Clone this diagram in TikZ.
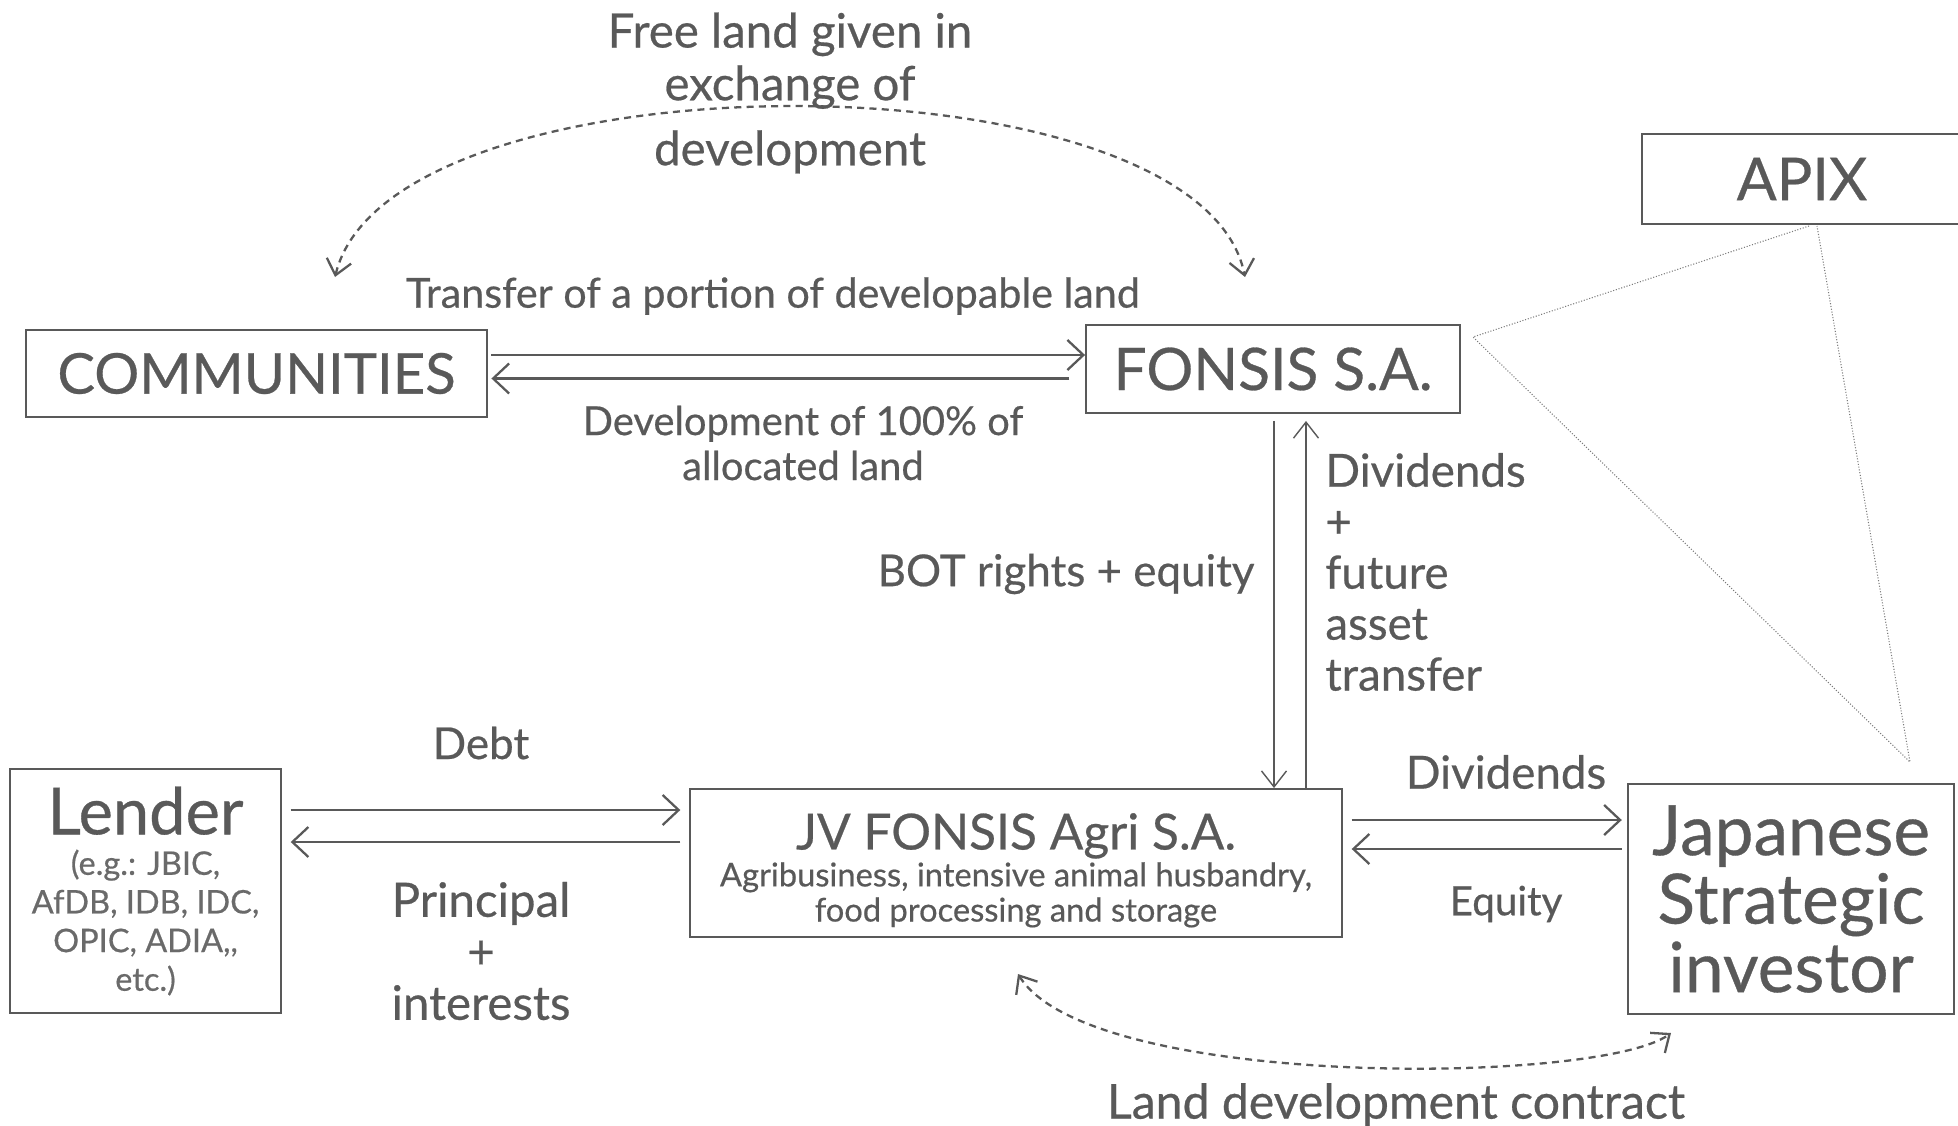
\documentclass[tikz,border=0pt]{standalone}
\usepackage{fontspec}
\setmainfont{Lato}[FakeBold=0.5]
\definecolor{inkgray}{HTML}{595959}
\definecolor{softgray}{HTML}{6A6A6A}
\definecolor{dotgray}{HTML}{7A7A7A}
\usetikzlibrary{arrows.meta, positioning}

\begin{document}
\begin{tikzpicture}[x=0.02cm, y=-0.02cm,
    box/.style={draw=inkgray, line width=1.1pt, text=inkgray, align=center, inner sep=0pt},
    lbl/.style={text=inkgray, align=center, inner sep=0pt},
    flow/.style={draw=inkgray, line width=1.3pt, -{Straight Barb[length=3.2mm, width=6mm]}},
    thinflow/.style={draw=inkgray, line width=0.8pt, -{Straight Barb[length=3.2mm, width=5mm]}},
    swap/.style={draw=inkgray, line width=1.3pt, dash pattern=on 4pt off 3pt, {Straight Barb[length=3mm, width=5mm]}-{Straight Barb[length=3mm, width=5mm]}},
    link/.style={draw=dotgray, line width=0.6pt, densely dotted}]
  \useasboundingbox (0,0) rectangle (1958,1126);

  % boxes
  \node[box, minimum width=9.22cm, minimum height=1.74cm, font=\fontsize{32}{36}\selectfont] (comm) at (256.5,373.5) {COMMUNITIES};
  \node[box, minimum width=7.48cm, minimum height=1.76cm, font=\fontsize{33.4}{36}\selectfont] (fonsis) at (1273,369) {FONSIS S.A.};
  \node[box, minimum width=6.4cm, minimum height=1.8cm, font=\fontsize{33.7}{36}\selectfont] (apix) at (1802,179) {APIX};
  \node[box, minimum width=5.42cm, minimum height=4.88cm, font=\fontsize{18.5}{22}\selectfont, text=softgray] (lender) at (145.5,891)
    {{\fontsize{37}{36}\selectfont\color{inkgray}Lender}\\[1pt]
     (e.g.: JBIC,\\AfDB, IDB, IDC,\\OPIC, ADIA,{},\\etc.)};
  \node[box, minimum width=13.04cm, minimum height=2.96cm, font=\fontsize{18.6}{20}\selectfont] (jv) at (1016,863)
    {{\fontsize{28.3}{30}\selectfont\rule{0pt}{29pt}JV FONSIS Agri S.A.}\\[1pt]
     Agribusiness, intensive animal husbandry,\\food processing and storage};
  \node[box, minimum width=6.52cm, minimum height=4.6cm, font=\fontsize{39.5}{39}\selectfont] (jsi) at (1791,899)
    {Japanese\\Strategic\\investor};

  % labels
  \node[lbl, font=\fontsize{27}{30}\selectfont] (freeland) at (790,93) {Free land given in\\exchange of\\[7pt]development};
  \node[lbl, font=\fontsize{23.5}{22}\selectfont] (transfer) at (773,296) {Transfer of a portion of developable land};
  \node[lbl, font=\fontsize{22.7}{25.6}\selectfont] (devel) at (803,443) {Development of 100\% of\\allocated land};
  \node[lbl, font=\fontsize{25}{26}\selectfont] (bot) at (1066,574) {BOT rights + equity};
  \node[lbl, align=left, anchor=west, font=\fontsize{26}{29}\selectfont] (divup) at (1325,572) {Dividends\\+\\future\\asset\\transfer};
  \node[lbl, font=\fontsize{25}{26}\selectfont] (debt) at (481,743) {Debt};
  \node[lbl, font=\fontsize{27}{29.3}\selectfont] (princ) at (481,951) {Principal\\+\\interests};
  \node[lbl, font=\fontsize{26}{26}\selectfont] (divjv) at (1506,772) {Dividends};
  \node[lbl, font=\fontsize{23}{24}\selectfont] (equity) at (1506,904) {Equity};
  \node[lbl, font=\fontsize{27.4}{26}\selectfont] (contract) at (1396,1105) {Land development contract};

  % free ends of the curved arrows and the APIX triangle
  \coordinate (commtop) at (335,277);
  \coordinate (fonsistop) at (1245,277);
  \coordinate (jvbottom) at (1018,974);
  \coordinate (jsibottom) at (1671,1033);
  \coordinate (apixleft) at (1809,226);
  \coordinate (apixright) at (1817,226);
  \coordinate (fonsisright) at (1473,337);
  \coordinate (jsitop) at (1910,762);

  % flows
  \draw[flow, shorten <=2pt] ([yshift=0.37cm]comm.east) -- ([yshift=0.37cm]comm.east -| fonsis.west);
  \draw[flow, shorten <=9pt, shorten >=2pt] ([yshift=-0.19cm]fonsis.west) -- ([yshift=-0.19cm]fonsis.west -| comm.east);
  \draw[thinflow, shorten <=4pt] ([xshift=0.02cm]fonsis.south) -- ([xshift=0.02cm]fonsis.south |- jv.north);
  \draw[thinflow, shorten >=4pt] ([xshift=0.66cm]fonsis.south |- jv.north) -- ([xshift=0.66cm]fonsis.south);
  \draw[flow, shorten <=5pt, shorten >=5pt] ([yshift=1.62cm]lender.east) -- ([yshift=1.62cm]lender.east -| jv.west);
  \draw[flow, shorten <=5pt, shorten >=5pt] ([yshift=0.42cm]jv.west) -- ([yshift=0.42cm]jv.west -| lender.east);
  \draw[flow, shorten <=5pt, shorten >=3pt] ([yshift=0.86cm]jv.east) -- ([yshift=0.86cm]jv.east -| jsi.west);
  \draw[flow, shorten <=3pt, shorten >=5pt] ([yshift=0.28cm]jsi.west |- jv.east) -- ([yshift=0.28cm]jv.east);

  % dashed exchanges
  \draw[swap] (commtop) .. controls (390,50) and (1200,50) .. (fonsistop);
  \draw[swap] (jvbottom) .. controls (1090,1090) and (1600,1085) .. (jsibottom);

  % APIX links
  \draw[link] (apixleft) -- (fonsisright) -- (jsitop) -- (apixright);
\end{tikzpicture}
\end{document}
